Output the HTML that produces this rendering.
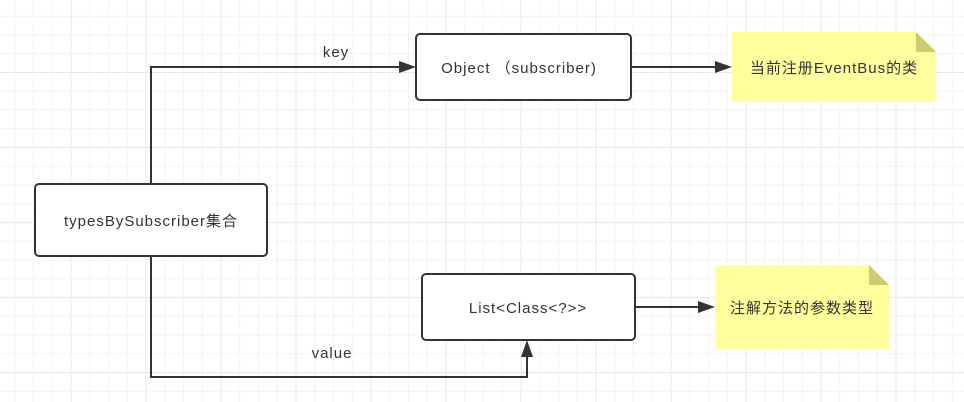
<!DOCTYPE html>
<html><head><meta charset="utf-8"><style>
body{margin:0;width:964px;height:402px;overflow:hidden;background:#fff;
background-image:linear-gradient(#e9e9e9 1px,transparent 1px),linear-gradient(90deg,#e9e9e9 1px,transparent 1px),linear-gradient(#f3f3f3 1px,transparent 1px),linear-gradient(90deg,#f3f3f3 1px,transparent 1px);
background-size:75px 75px,75px 75px,18.75px 18.75px,18.75px 18.75px;
background-position:-3px -3px,-4.5px -3px,-3px -3px,-4.5px -3px;
font-family:"Liberation Sans","Noto Sans CJK SC",sans-serif;}
svg{position:absolute;left:0;top:0}
</style></head><body>
<svg width="964" height="402" font-family="Liberation Sans, Noto Sans CJK SC, sans-serif" font-size="15" letter-spacing="1" fill="#333">
<g stroke="#333" stroke-width="2" fill="none">
<path d="M151 184V67H400"/>
<path d="M151 256V377H527V356"/>
<path d="M631 67H716"/>
<path d="M635 307H699"/>
</g>
<g fill="#333">
<path d="M416 67l-17-6v12z"/>
<path d="M527 340l-6 17h12z"/>
<path d="M732 67l-17-6v12z"/>
<path d="M715 307l-17-6v12z"/>
</g>
<g fill="#fff" stroke="#333" stroke-width="2">
<rect x="35" y="184" width="232" height="72" rx="4"/>
<rect x="416" y="34" width="215" height="66" rx="4"/>
<rect x="422" y="274" width="213" height="66" rx="4"/>
</g>
<path d="M732 32H916L936 52V102H732Z" fill="#ffff9e"/>
<path d="M916 32V52H936Z" fill="#cccc6e"/>
<path d="M715 265H869L889 285V349H715Z" fill="#ffff9e"/>
<path d="M869 265V285H889Z" fill="#cccc6e"/>
<g text-anchor="middle">
<text x="151" y="226">typesBySubscriber集合</text>
<text x="519" y="73">Object （subscriber)</text>
<text x="528" y="313">List&lt;Class&lt;?&gt;&gt;</text>
<text x="834" y="73">当前注册EventBus的类</text>
<text x="802" y="313">注解方法的参数类型</text>
<text x="336" y="57">key</text>
<text x="332" y="358">value</text>
</g>
</svg>
</body></html>
